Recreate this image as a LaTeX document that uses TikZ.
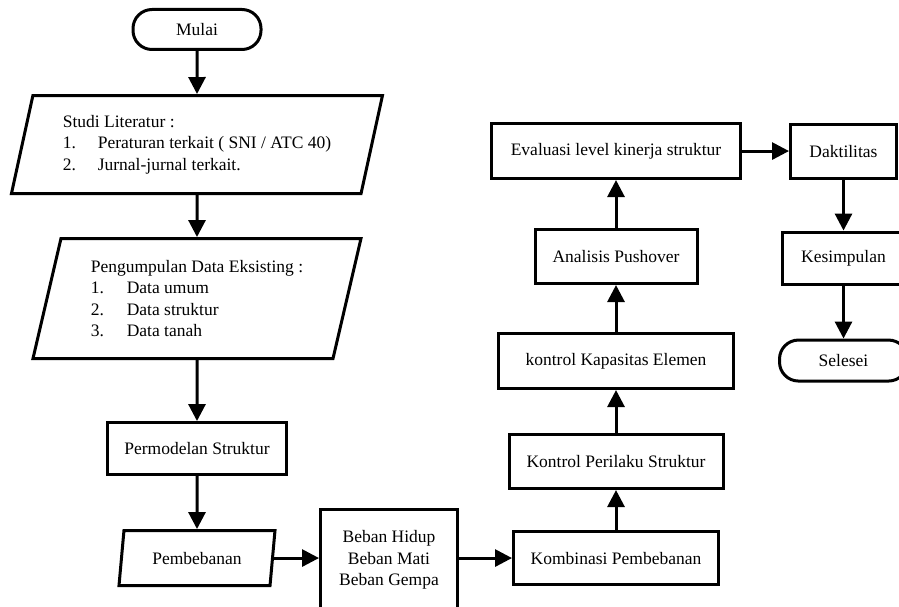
\documentclass[tikz,border=0pt]{standalone}
\usepackage{fontspec}
\setmainfont{Liberation Serif}
\usetikzlibrary{arrows.meta, shapes.geometric, positioning}

\begin{document}
\begin{tikzpicture}[x=1pt, y=-1pt, line width=3pt,
  font=\fontsize{17.5}{21.5}\selectfont,
  kotak/.style={draw, rectangle, inner sep=0pt, align=center},
  terminal/.style={draw, rectangle, rounded corners=19pt, minimum width=128pt, minimum height=40pt, inner sep=0pt},
  io/.style={draw, trapezium, trapezium left angle=70, trapezium right angle=110, trapezium stretches body, inner sep=0pt, align=left},
  panah/.style={-{Triangle[length=17pt,width=17pt]}}]
\useasboundingbox (0,0) rectangle (899,607);
\clip (0,0) rectangle (899,607);

% kolom kiri
\node (mulai) [terminal] at (197,29.5) {Mulai};
\node (studi) [io, below=43pt of mulai, minimum width=371pt, minimum height=98pt]
  {Studi Literatur :\\ \makebox[35pt][l]{1.}Peraturan terkait ( SNI / ATC 40)\\ \makebox[35pt][l]{2.}Jurnal-jurnal terkait.};
\node (data) [io, below=42pt of studi, minimum width=328pt, minimum height=120pt]
  {Pengumpulan Data Eksisting :\\ \makebox[36pt][l]{1.}Data umum\\ \makebox[36pt][l]{2.}Data struktur\\ \makebox[36pt][l]{3.}Data tanah};
\node (model) [kotak, below=61pt of data, minimum width=179pt, minimum height=52pt] {Permodelan Struktur};
\node (beban) [io, below=53pt of model, minimum width=156pt, minimum height=55pt, trapezium left angle=68, trapezium right angle=112] {Pembebanan};

% baris bawah
\node (jenis) [kotak, right=45pt of beban, minimum width=137pt, minimum height=102pt, yshift=-2pt] {Beban Hidup\\ Beban Mati\\ Beban Gempa};
\node (kombinasi) [kotak, right=53pt of beban.east -| jenis.east, minimum width=205pt, minimum height=53pt] {Kombinasi Pembebanan};

% kolom tengah
\node (perilaku) [kotak, above=40pt of kombinasi, minimum width=214pt, minimum height=54pt] {Kontrol Perilaku Struktur};
\node (kapasitas) [kotak, above=43pt of perilaku, minimum width=235pt, minimum height=55pt] {kontrol Kapasitas Elemen};
\node (pushover) [kotak, above=47pt of kapasitas, minimum width=162pt, minimum height=54pt] {Analisis Pushover};
\node (evaluasi) [kotak, above=48pt of pushover, minimum width=249pt, minimum height=55pt] {Evaluasi level kinerja struktur};

% kolom kanan
\node (daktil) [kotak, right=47pt of evaluasi, minimum width=106pt, minimum height=54pt] {Daktilitas};
\node (simpul) [kotak, below=51pt of daktil, minimum width=122pt, minimum height=52pt] {Kesimpulan};
\node (selesai) [terminal, below=53pt of simpul, minimum height=41pt] {Selesei};

\draw[panah] (mulai) -- (studi);
\draw[panah] (studi) -- (data);
\draw[panah] (data) -- (model);
\draw[panah] (model) -- (beban);
\draw[panah] (beban.east) -- (beban.east -| jenis.west);
\draw[panah] (beban.east -| jenis.east) -- (kombinasi.west);
\draw[panah] (kombinasi) -- (perilaku);
\draw[panah] (perilaku) -- (kapasitas);
\draw[panah] (kapasitas) -- (pushover);
\draw[panah] (pushover) -- (evaluasi);
\draw[panah] (evaluasi) -- (daktil);
\draw[panah] (daktil) -- (simpul);
\draw[panah] (simpul) -- (selesai);
\end{tikzpicture}
\end{document}
